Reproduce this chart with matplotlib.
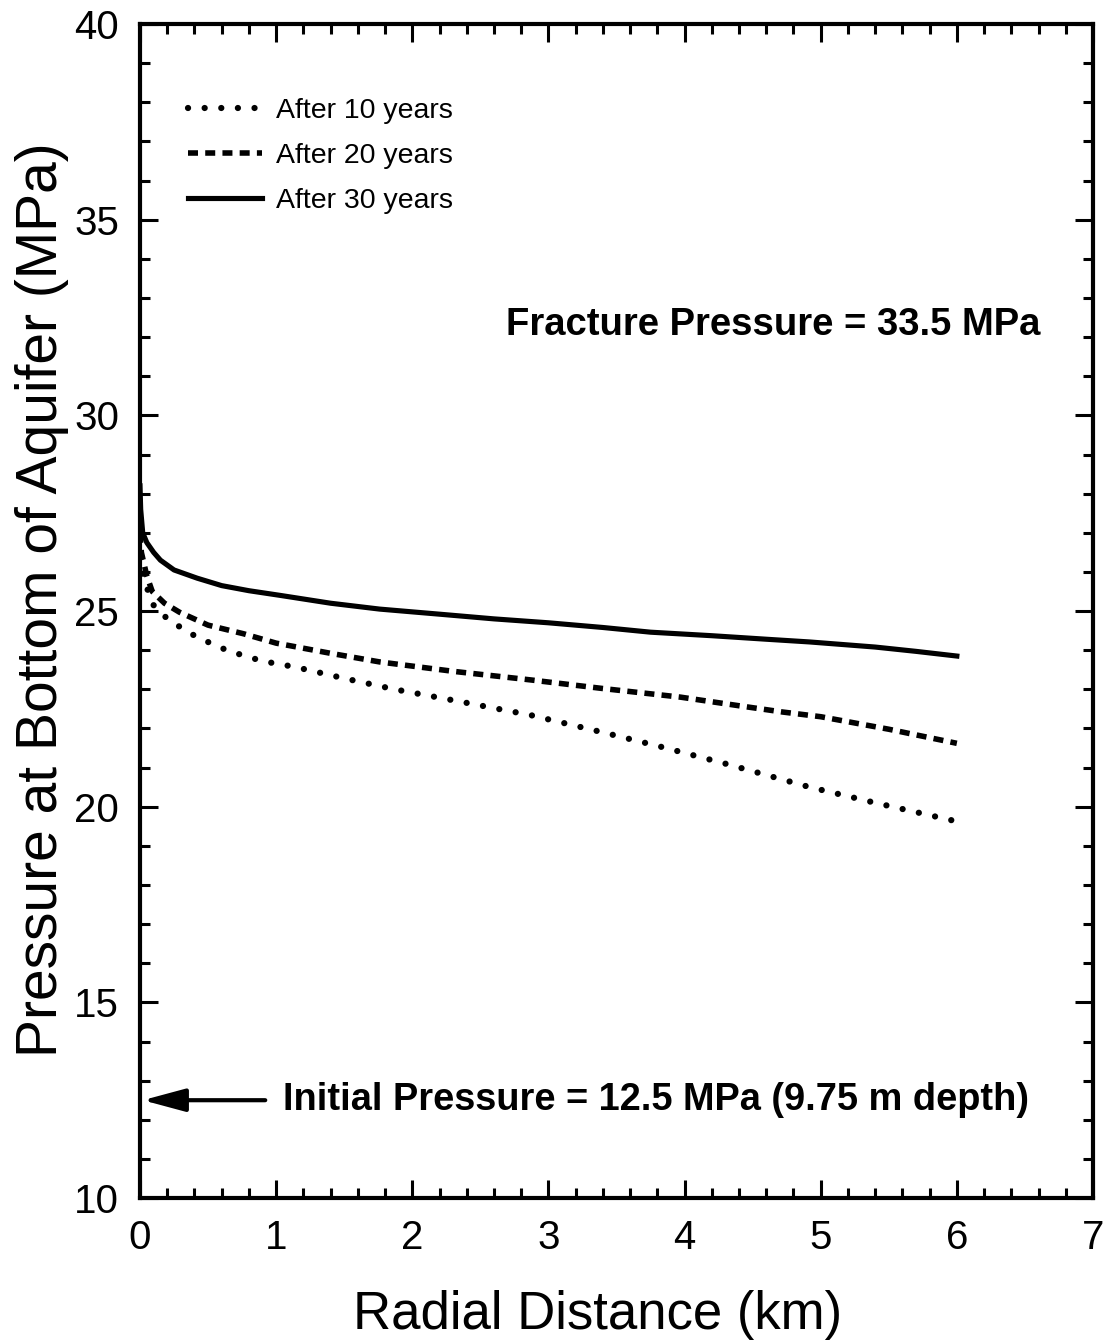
import matplotlib
matplotlib.use('Agg')
import matplotlib.pyplot as plt
from matplotlib.ticker import MultipleLocator

plt.rcParams['font.family'] = ['Liberation Sans', 'DejaVu Sans']

# pressure (MPa) vs radial distance (km)
x10 = [0.0, 0.02, 0.05, 0.1, 0.21, 0.42, 0.65, 0.9, 1.14, 1.5, 1.87, 2.3, 2.87,
       3.4, 3.84, 4.3, 4.92, 5.4, 5.98]
p10 = [26.8, 26.0, 25.6, 25.15, 24.77, 24.33, 23.98, 23.72, 23.57, 23.28, 23.0,
       22.72, 22.34, 21.9, 21.52, 21.1, 20.5, 20.1, 19.64]

x20 = [0.0, 0.01, 0.03, 0.05, 0.09, 0.18, 0.29, 0.5, 0.76, 1.0, 1.4, 1.76, 2.3,
       2.87, 3.4, 3.97, 4.4, 4.72, 5.0, 5.5, 6.0]
p20 = [27.0, 26.5, 26.2, 25.9, 25.5, 25.2, 24.97, 24.64, 24.42, 24.18, 23.92,
       23.7, 23.46, 23.24, 23.02, 22.8, 22.58, 22.42, 22.3, 21.98, 21.62]

x30 = [0.0, 0.005, 0.02, 0.05, 0.1, 0.15, 0.25, 0.42, 0.6, 0.8, 1.03, 1.4, 1.76,
       2.2, 2.6, 3.0, 3.4, 3.75, 4.2, 4.6, 4.92, 5.4, 5.7, 6.0]
p30 = [28.2, 27.6, 27.0, 26.75, 26.5, 26.3, 26.05, 25.84, 25.65, 25.52, 25.4,
       25.2, 25.05, 24.92, 24.8, 24.7, 24.58, 24.46, 24.37, 24.28, 24.21, 24.08,
       23.97, 23.85]

labels = ['After 10 years', 'After 20 years', 'After 30 years']
fracture_p = 33.5
initial_p = 12.5

fig = plt.figure(figsize=(11.12, 13.44), dpi=100)
ax = fig.add_axes([0.1259, 0.1086, 0.857, 0.8735])

ax.plot(x10, p10, color='black', lw=4.5, linestyle=(0, (0.01, 2.65)),
        dash_capstyle='round', label=labels[0])
ax.plot(x20, p20, color='black', lw=4, linestyle=(0, (1.8, 1.3)),
        label=labels[1])
ax.plot(x30, p30, color='black', lw=3.7, label=labels[2])

ax.set_xlim(0, 7)
ax.set_ylim(10, 40)
ax.xaxis.set_major_locator(MultipleLocator(1))
ax.xaxis.set_minor_locator(MultipleLocator(0.2))
ax.yaxis.set_major_locator(MultipleLocator(5))
ax.yaxis.set_minor_locator(MultipleLocator(1))
ax.tick_params(which='both', direction='in', top=True, right=True,
               width=2.2, labelsize=29, pad=15)
ax.tick_params(which='major', length=13)
ax.tick_params(which='minor', length=7.5)
for s in ax.spines.values():
    s.set_linewidth(3)

ax.set_xlabel('Radial Distance (km)', fontsize=38)
ax.set_ylabel('Pressure at Bottom of Aquifer (MPa)', fontsize=41)
ax.xaxis.set_label_coords(0.48, -0.078)
ax.yaxis.set_label_coords(-0.074, 0.51)

ax.legend(loc='upper left', bbox_to_anchor=(0.05, 0.937), frameon=False,
          fontsize=20.5, handlelength=2.6, handletextpad=0.5,
          labelspacing=0.67, borderpad=0, borderaxespad=0)

ax.text(6.61, 32.3, f'Fracture Pressure = {fracture_p} MPa', fontsize=27.5,
        fontweight='bold', ha='right', va='center')
ax.text(1.05, initial_p, f'Initial Pressure = {initial_p} MPa (9.75 m depth)',
        fontsize=27.4, fontweight='bold', ha='left', va='center')
ax.annotate('', xy=(0.02, initial_p), xytext=(0.92, initial_p),
            arrowprops=dict(arrowstyle='-|>,head_length=1.3,head_width=0.35',
                            lw=3, color='black', mutation_scale=20,
                            shrinkA=0, shrinkB=0))

fig.savefig('out.png', dpi=100)
